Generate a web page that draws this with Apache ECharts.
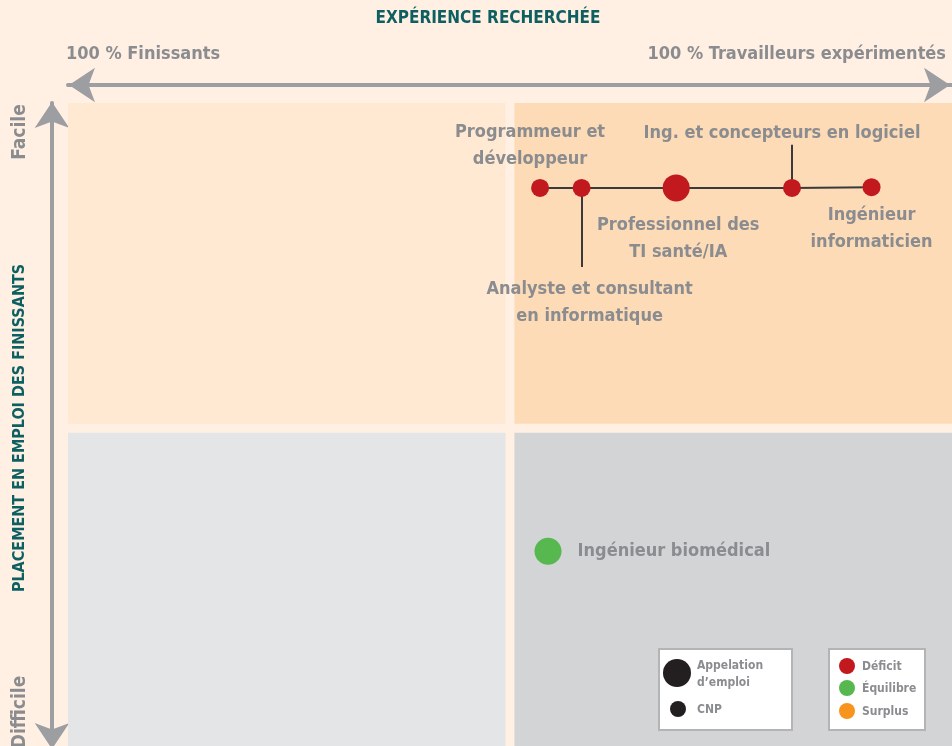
<!DOCTYPE html>
<html>
<head>
<meta charset="utf-8">
<script src="https://cdn.jsdelivr.net/npm/echarts@6/dist/echarts.min.js"></script>
<style>
  html, body { margin: 0; padding: 0; background: #FFF0E3; }
  #main { width: 952px; height: 746px; }
</style>
</head>
<body>
<div id="main"></div>
<script>
// appellations / CNP en déficit (reliés par une ligne)
var deficitNoms = ['Programmeur et\ndéveloppeur', 'Analyste et consultant\nen informatique', 'Professionnel des\nTI santé/IA', 'Ing. et concepteurs en logiciel', 'Ingénieur\ninformaticien'];
var deficitX = [53.4, 58.1, 68.8, 81.9, 90.9];
var deficitY = [86.8, 86.8, 86.8, 86.8, 86.9];
var deficitType = ['CNP', 'CNP', 'Appellation', 'CNP', 'CNP'];

// équilibre
var equilibreNoms = ['Ingénieur biomédical'];
var equilibreX = [54.3];
var equilibreY = [30.3];
var equilibreType = ['Appellation'];

// traits de rappel (x, y début, y fin)
var rappelX = [58.1, 81.9];
var rappelY1 = [86.8, 86.8];
var rappelY2 = [74.5, 93.5];

var FONT = "'Liberation Sans Narrow', 'DejaVu Sans Condensed', sans-serif";
var GRIS = '#8B8C8F';
var TEAL = '#0E5F61';

var labelPos = [
  { position: 'top', offset: [-10, -1] },
  { position: 'bottom', offset: [8, 74] },
  { position: 'bottom', offset: [2, 5] },
  { position: 'top', offset: [-10, -27] },
  { position: 'bottom', offset: [0, 1] }
];

function taille(t) { return t === 'Appellation' ? 27 : 18; }

var deficitData = deficitNoms.map(function (n, i) {
  return {
    name: n,
    value: [deficitX[i], deficitY[i]],
    symbolSize: taille(deficitType[i]),
    label: labelPos[i]
  };
});
var equilibreData = equilibreNoms.map(function (n, i) {
  return {
    name: n,
    value: [equilibreX[i], equilibreY[i]],
    symbolSize: taille(equilibreType[i])
  };
});
var rappels = rappelX.map(function (x, i) {
  return { coords: [[x, rappelY1[i]], [x, rappelY2[i]]] };
});

var axeFleche = {
  show: true, onZero: false, symbol: ['arrow', 'arrow'], symbolSize: [26, 26],
  lineStyle: { color: '#9D9EA2', width: 4 }
};

var chart = echarts.init(document.getElementById('main'));
chart.setOption({
  backgroundColor: '#FFF0E3',
  animation: false,
  grid: { left: 68, right: 0, top: 103, bottom: 0 },
  xAxis: {
    type: 'value', min: 0, max: 100, position: 'top', offset: 18,
    axisLine: echarts.util.merge({ symbolOffset: [1, -2] }, axeFleche),
    axisTick: { show: false }, axisLabel: { show: false }, splitLine: { show: false }
  },
  yAxis: {
    type: 'value', min: 0, max: 100, position: 'left', offset: 16,
    axisLine: echarts.util.merge({ symbolOffset: [-3, 1] }, axeFleche),
    axisTick: { show: false }, axisLabel: { show: false }, splitLine: { show: false }
  },
  series: [
    {
      type: 'scatter', data: [], z: 0, silent: true,
      markArea: {
        silent: true,
        data: [
          [{ xAxis: 0, yAxis: 50.1, itemStyle: { color: '#FFE9D3' } }, { xAxis: 49.5, yAxis: 100 }],
          [{ xAxis: 50.5, yAxis: 50.1, itemStyle: { color: '#FDDBB6' } }, { xAxis: 100, yAxis: 100 }],
          [{ xAxis: 0, yAxis: 0, itemStyle: { color: '#E4E5E7' } }, { xAxis: 49.5, yAxis: 48.7 }],
          [{ xAxis: 50.5, yAxis: 0, itemStyle: { color: '#D3D4D6' } }, { xAxis: 100, yAxis: 48.7 }]
        ]
      }
    },
    {
      type: 'lines', coordinateSystem: 'cartesian2d', z: 2, silent: true,
      lineStyle: { color: '#3A3A3C', width: 2, opacity: 1 },
      data: rappels
    },
    {
      type: 'line', z: 3, silent: true,
      data: deficitData,
      symbol: 'circle',
      lineStyle: { color: '#3A3A3C', width: 2 },
      itemStyle: { color: '#C1191E', opacity: 1 },
      label: {
        show: true, formatter: '{b}', color: GRIS, fontFamily: FONT, fontWeight: 'bold',
        fontSize: 18, lineHeight: 27, align: 'center'
      }
    },
    {
      type: 'scatter', z: 3, silent: true,
      data: equilibreData,
      itemStyle: { color: '#56B84E', opacity: 1 },
      label: {
        show: true, position: 'right', distance: 16, formatter: '{b}', color: GRIS,
        fontFamily: FONT, fontWeight: 'bold', fontSize: 18
      }
    }
  ],
  graphic: {
    elements: [
      { type: 'text', z: 100, x: 488, y: 19, style: { text: 'EXPÉRIENCE RECHERCHÉE', fill: TEAL, font: 'bold 17px ' + FONT, align: 'center', verticalAlign: 'middle' } },
      { type: 'text', z: 100, x: 66, y: 54, style: { text: '100 % Finissants', fill: GRIS, font: 'bold 18px ' + FONT, align: 'left', verticalAlign: 'middle' } },
      { type: 'text', z: 100, x: 946, y: 54, style: { text: '100 % Travailleurs expérimentés', fill: GRIS, font: 'bold 18px ' + FONT, align: 'right', verticalAlign: 'middle' } },
      { type: 'text', z: 100, x: 20, y: 132, rotation: Math.PI / 2, style: { text: 'Facile', fill: GRIS, font: 'bold 19px ' + FONT, align: 'center', verticalAlign: 'middle' } },
      { type: 'text', z: 100, x: 20, y: 428, rotation: Math.PI / 2, style: { text: 'PLACEMENT EN EMPLOI DES FINISSANTS', fill: TEAL, font: 'bold 16px ' + FONT, align: 'center', verticalAlign: 'middle' } },
      { type: 'text', z: 100, x: 20, y: 712, rotation: Math.PI / 2, style: { text: 'Difficile', fill: GRIS, font: 'bold 19px ' + FONT, align: 'center', verticalAlign: 'middle' } },
      // légende taille
      { type: 'rect', z: 100, shape: { x: 659, y: 649, width: 133, height: 81 }, style: { fill: '#FFFFFF', stroke: '#B3B4B6', lineWidth: 2 } },
      { type: 'circle', z: 101, shape: { cx: 677, cy: 673, r: 14 }, style: { fill: '#231F20' } },
      { type: 'circle', z: 101, shape: { cx: 678, cy: 709, r: 8 }, style: { fill: '#231F20' } },
      { type: 'text', z: 101, x: 697, y: 674, style: { text: 'Appelation\nd\u2019emploi', fill: GRIS, font: 'bold 12px ' + FONT, lineHeight: 17, align: 'left', verticalAlign: 'middle' } },
      { type: 'text', z: 101, x: 697, y: 710, style: { text: 'CNP', fill: GRIS, font: 'bold 12px ' + FONT, align: 'left', verticalAlign: 'middle' } },
      // légende couleur
      { type: 'rect', z: 100, shape: { x: 829, y: 649, width: 96, height: 81 }, style: { fill: '#FFFFFF', stroke: '#B3B4B6', lineWidth: 2 } },
      { type: 'circle', z: 101, shape: { cx: 847, cy: 666, r: 8 }, style: { fill: '#C1191E' } },
      { type: 'circle', z: 101, shape: { cx: 847, cy: 688, r: 8 }, style: { fill: '#56B84E' } },
      { type: 'circle', z: 101, shape: { cx: 847, cy: 711, r: 8 }, style: { fill: '#F7941E' } },
      { type: 'text', z: 101, x: 862, y: 667, style: { text: 'Déficit', fill: GRIS, font: 'bold 12px ' + FONT, align: 'left', verticalAlign: 'middle' } },
      { type: 'text', z: 101, x: 862, y: 689, style: { text: 'Équilibre', fill: GRIS, font: 'bold 12px ' + FONT, align: 'left', verticalAlign: 'middle' } },
      { type: 'text', z: 101, x: 862, y: 712, style: { text: 'Surplus', fill: GRIS, font: 'bold 12px ' + FONT, align: 'left', verticalAlign: 'middle' } }
    ]
  }
});
</script>
</body>
</html>
